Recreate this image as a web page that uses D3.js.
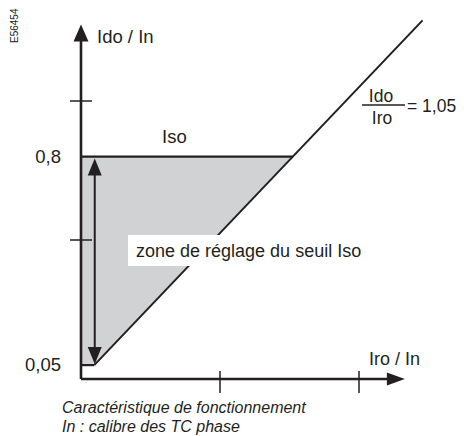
<!DOCTYPE html>
<html><head><meta charset="utf-8">
<script src="https://cdn.jsdelivr.net/npm/d3@7"></script>
<style>html,body{margin:0;padding:0;background:#fff;}svg{display:block;}</style>
</head><body>
<script>
// ---- data ----
const xTicks = [0.5, 1.0];
const yTicks = [0.5, 1.0];
const yLabelValues = [0.05, 0.8];
const yLabelTexts = ["0,05", "0,8"];
const ratio = 1.05;          // Ido / Iro
const isoMin = 0.05, isoMax = 0.8;
const diagEndIdo = 1.29;
const xAxisMax = 1.165, yAxisMax = 1.275;

const W = 464, H = 436;
const ink = "#231f20";
const font = "'Liberation Sans', Arial, Helvetica, sans-serif";

const svg = d3.select("body").append("svg").attr("width", W).attr("height", H);
const x = d3.scaleLinear().domain([0, 1]).range([81, 359]);
const y = d3.scaleLinear().domain([0, 1]).range([379, 101]);

// gray zone
const zone = [[0, isoMax], [isoMax / ratio, isoMax], [isoMin / ratio, isoMin], [0, isoMin]];
svg.append("path")
  .attr("d", d3.line().x(d => x(d[0])).y(d => y(d[1]))(zone) + "Z")
  .attr("fill", "#d1d2d4");

// diagonal Ido/Iro = 1.05
svg.append("line")
  .attr("x1", x(isoMin / ratio)).attr("y1", y(isoMin))
  .attr("x2", x(diagEndIdo / ratio)).attr("y2", y(diagEndIdo))
  .attr("stroke", ink).attr("stroke-width", 2);

// Iso line
svg.append("line")
  .attr("x1", x(0)).attr("y1", y(isoMax))
  .attr("x2", x(isoMax / ratio)).attr("y2", y(isoMax))
  .attr("stroke", ink).attr("stroke-width", 2.2);
// 0.05 short line
svg.append("line")
  .attr("x1", x(0)).attr("y1", y(isoMin))
  .attr("x2", x(isoMin / ratio)).attr("y2", y(isoMin))
  .attr("stroke", ink).attr("stroke-width", 2.2);

// white box behind zone label
svg.append("rect").attr("x", 128).attr("y", 235).attr("width", 244).attr("height", 31).attr("fill", "#fff");

// axes
svg.append("line").attr("x1", x(0)).attr("y1", y(0)).attr("x2", x(xAxisMax) - 16).attr("y2", y(0))
  .attr("stroke", ink).attr("stroke-width", 2.6);
svg.append("line").attr("x1", x(0)).attr("y1", y(0)).attr("x2", x(0)).attr("y2", y(yAxisMax) + 15)
  .attr("stroke", ink).attr("stroke-width", 2.6);
svg.append("path").attr("fill", ink)
  .attr("d", `M${x(xAxisMax)},${y(0)} L${x(xAxisMax) - 18},${y(0) - 6.5} L${x(xAxisMax) - 18},${y(0) + 6.5}Z`);
svg.append("path").attr("fill", ink)
  .attr("d", `M${x(0)},${y(yAxisMax)} L${x(0) - 7.5},${y(yAxisMax) + 17} L${x(0) + 7.5},${y(yAxisMax) + 17}Z`);

// ticks
svg.selectAll(".xt").data(xTicks).join("line")
  .attr("x1", d => x(d)).attr("x2", d => x(d)).attr("y1", y(0) - 8).attr("y2", y(0) + 14)
  .attr("stroke", ink).attr("stroke-width", 1.5);
svg.selectAll(".yt").data(yTicks).join("line")
  .attr("y1", d => y(d)).attr("y2", d => y(d)).attr("x1", x(0) - 11).attr("x2", x(0) + 11)
  .attr("stroke", ink).attr("stroke-width", 1.5);

// double arrow
const ax = x(isoMin / ratio) + 0.5;
svg.append("line").attr("x1", ax).attr("x2", ax).attr("y1", y(isoMax) + 16).attr("y2", y(isoMin) - 16)
  .attr("stroke", ink).attr("stroke-width", 2);
svg.append("path").attr("fill", ink)
  .attr("d", `M${ax},${y(isoMax) + 2} L${ax - 7},${y(isoMax) + 19} L${ax + 7},${y(isoMax) + 19}Z`);
svg.append("path").attr("fill", ink)
  .attr("d", `M${ax},${y(isoMin) - 1} L${ax - 7},${y(isoMin) - 18} L${ax + 7},${y(isoMin) - 18}Z`);

// y labels
svg.selectAll(".yl").data(yLabelValues).join("text")
  .attr("x", 61).attr("y", d => y(d) + 6)
  .attr("text-anchor", "end")
  .attr("font-family", font).attr("font-size", 18.5).attr("fill", ink)
  .text((d, i) => yLabelTexts[i]);

function txt(t, xx, yy, size, opts = {}) {
  const e = svg.append("text").attr("x", xx).attr("y", yy)
    .attr("font-family", font).attr("font-size", size).attr("fill", ink).text(t);
  if (opts.anchor) e.attr("text-anchor", opts.anchor);
  if (opts.italic) e.attr("font-style", "italic");
  return e;
}
txt("Ido / In", 97, 43, 18.5);
txt("Iro / In", 369, 365, 18);
txt("Iso", 162, 143, 18.5);
txt("zone de réglage du seuil Iso", 136, 257, 18);

// fraction
txt("Ido", 381, 102, 17.5, {anchor: "middle"});
txt("Iro", 382, 124, 17.5, {anchor: "middle"});
svg.append("line").attr("x1", 362).attr("x2", 405).attr("y1", 105).attr("y2", 105)
  .attr("stroke", ink).attr("stroke-width", 1.3);
txt("= 1,05", 407, 112, 17.5);

// captions
txt("Caractéristique de fonctionnement", 62, 413, 16, {italic: true});
txt("In : calibre des TC phase", 62, 432, 16, {italic: true});

// reference code
svg.append("text").attr("transform", "translate(18,43) rotate(-90)")
  .attr("font-family", "'Liberation Sans Narrow', 'Liberation Sans', Arial, sans-serif")
  .attr("font-size", 10).attr("fill", ink).text("E56454");
</script>
</body></html>
